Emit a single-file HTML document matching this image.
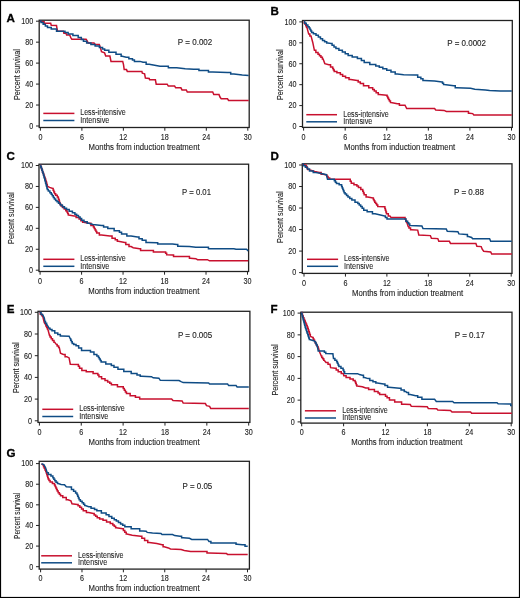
<!DOCTYPE html>
<html><head><meta charset="utf-8"><title>Survival curves</title>
<style>
html,body{margin:0;padding:0;background:#fff;}
body{width:520px;height:598px;overflow:hidden;}
svg{display:block;will-change:transform;}
text{font-family:"Liberation Sans", sans-serif;fill:#1e1e1e;stroke:#1e1e1e;stroke-width:0.12px;}
.tk{font-size:8.4px;}
.ttl{font-size:8.9px;}
.lg{font-size:8.5px;stroke-width:0.08px;fill:#1e1e1e;}
.pv{font-size:8.4px;}
.let{font-size:11.6px;font-weight:bold;fill:#000;stroke:#000;stroke-width:0.3px;}
</style></head><body>
<svg width="520" height="598" viewBox="0 0 520 598">
<rect x="0.5" y="0.5" width="519" height="597" fill="#fff" stroke="#000" stroke-width="1.2"/>
<rect x="39.2" y="20.2" width="210" height="107.3" fill="none" stroke="#222" stroke-width="1.3"/>
<line x1="36" y1="126" x2="39.2" y2="126" stroke="#222" stroke-width="1"/>
<text x="33.2" y="128.8" text-anchor="end" class="tk" textLength="4" lengthAdjust="spacingAndGlyphs">0</text>
<line x1="36" y1="105.04" x2="39.2" y2="105.04" stroke="#222" stroke-width="1"/>
<text x="33.2" y="107.84" text-anchor="end" class="tk" textLength="8" lengthAdjust="spacingAndGlyphs">20</text>
<line x1="36" y1="84.08" x2="39.2" y2="84.08" stroke="#222" stroke-width="1"/>
<text x="33.2" y="86.88" text-anchor="end" class="tk" textLength="8" lengthAdjust="spacingAndGlyphs">40</text>
<line x1="36" y1="63.12" x2="39.2" y2="63.12" stroke="#222" stroke-width="1"/>
<text x="33.2" y="65.92" text-anchor="end" class="tk" textLength="8" lengthAdjust="spacingAndGlyphs">60</text>
<line x1="36" y1="42.16" x2="39.2" y2="42.16" stroke="#222" stroke-width="1"/>
<text x="33.2" y="44.96" text-anchor="end" class="tk" textLength="8" lengthAdjust="spacingAndGlyphs">80</text>
<line x1="36" y1="21.2" x2="39.2" y2="21.2" stroke="#222" stroke-width="1"/>
<text x="33.2" y="24" text-anchor="end" class="tk" textLength="12" lengthAdjust="spacingAndGlyphs">100</text>
<line x1="40.4" y1="127.5" x2="40.4" y2="130.7" stroke="#222" stroke-width="1"/>
<text x="40.4" y="139.8" text-anchor="middle" class="tk" textLength="4" lengthAdjust="spacingAndGlyphs">0</text>
<line x1="81.88" y1="127.5" x2="81.88" y2="130.7" stroke="#222" stroke-width="1"/>
<text x="81.88" y="139.8" text-anchor="middle" class="tk" textLength="4" lengthAdjust="spacingAndGlyphs">6</text>
<line x1="123.36" y1="127.5" x2="123.36" y2="130.7" stroke="#222" stroke-width="1"/>
<text x="123.36" y="139.8" text-anchor="middle" class="tk" textLength="8" lengthAdjust="spacingAndGlyphs">12</text>
<line x1="164.84" y1="127.5" x2="164.84" y2="130.7" stroke="#222" stroke-width="1"/>
<text x="164.84" y="139.8" text-anchor="middle" class="tk" textLength="8" lengthAdjust="spacingAndGlyphs">18</text>
<line x1="206.32" y1="127.5" x2="206.32" y2="130.7" stroke="#222" stroke-width="1"/>
<text x="206.32" y="139.8" text-anchor="middle" class="tk" textLength="8" lengthAdjust="spacingAndGlyphs">24</text>
<line x1="247.8" y1="127.5" x2="247.8" y2="130.7" stroke="#222" stroke-width="1"/>
<text x="247.8" y="139.8" text-anchor="middle" class="tk" textLength="8" lengthAdjust="spacingAndGlyphs">30</text>
<text x="144.1" y="149.8" text-anchor="middle" class="ttl" textLength="111" lengthAdjust="spacingAndGlyphs">Months from induction treatment</text>
<text x="0" y="0" text-anchor="middle" class="ttl" textLength="50.8" lengthAdjust="spacingAndGlyphs" transform="translate(20.1,74.6) rotate(-90)">Percent survival</text>
<text x="6.5" y="22.4" class="let">A</text>
<text x="177.8" y="45.2" class="pv" textLength="34.5" lengthAdjust="spacingAndGlyphs">P = 0.002</text>
<line x1="43.3" y1="113.4" x2="74.4" y2="113.4" stroke="#c8102e" stroke-width="1.5"/>
<line x1="43.3" y1="120.5" x2="74.4" y2="120.5" stroke="#0f4c85" stroke-width="1.5"/>
<text x="80.2" y="115.3" class="lg" textLength="45.5" lengthAdjust="spacingAndGlyphs">Less-intensive</text>
<text x="80.2" y="122.9" class="lg" textLength="29.2" lengthAdjust="spacingAndGlyphs">Intensive</text>
<polyline points="39.9,21 42.8,21.7 44.1,21.7 44.1,23.3 45.4,23.3 50.7,23.3 51.2,25.2 56.5,25.4 57,28.6 57.6,31.2 63.4,31.2 63.9,33.3 66,33.3 66.6,34.9 69.7,34.9 70.8,37.6 71.8,39.2 86.1,39.2 86.7,40.2 88.2,42.9 94,42.9 95.1,44.4 99.3,44.6 100.4,47.6 101.5,51.8 104.6,52.9 105.7,56.1 109.9,56.1 111,61.4 122.7,61.4 123.5,64.6 124.2,69.6 126.5,69.6 127.3,71.4 141.9,71.4 142.3,73.1 144.6,73.8 145.4,78.1 149.2,78.5 149.6,79.8 155.4,79.8 156.2,84.2 167.2,84.2 168.3,86.1 174.6,86.1 175.7,87.8 180.9,87.8 182,89.9 186.3,89.9 187.3,92 212.7,92 213.8,94.6 219,94.6 220.1,97.3 221.2,98.8 227.5,98.8 228.6,100.5 248.7,100.5" fill="none" stroke="#c8102e" stroke-width="1.5" stroke-linejoin="miter"/>
<polyline points="39.9,21 40.99,21 40.99,22.62 43.16,22.62 43.16,24.25 45.34,24.25 45.34,25.88 47.51,25.88 47.51,27.5 48.6,27.5 51.25,27.5 51.25,29.1 53.9,29.1 56.55,29.1 56.55,31.2 59.2,31.2 63.4,31.2 64.97,31.2 64.97,32.55 68.12,32.55 68.12,33.9 69.7,33.9 72.9,33.9 72.9,35.5 76.1,35.5 78.2,35.5 78.2,37.6 80.3,37.6 81.35,37.6 81.35,39.45 83.45,39.45 83.45,41.3 84.5,41.3 86.65,41.3 86.65,42.9 88.8,42.9 90.9,42.9 90.9,44.4 93,44.4 95.12,44.4 95.12,46 99.38,46 99.38,47.6 101.5,47.6 102.55,47.6 102.55,48.9 104.65,48.9 104.65,50.2 105.7,50.2 108.85,50.2 108.85,52.3 112,52.3 116,52.3 116,54.2 120,54.2 121.15,54.2 121.15,56.2 122.3,56.2 126.2,57.3 128.85,57.3 128.85,58.8 131.5,58.8 132.47,58.8 132.47,60.1 134.43,60.1 134.43,61.4 135.4,61.4 140,61.4 143.1,62.3 146.15,62.3 146.15,64.2 149.2,64.2 154.6,65.2 160,66.2 168.35,66.2 168.35,67.7 176.7,67.7 185.2,68.8 193.7,69.2 198.95,69.2 198.95,70.5 204.2,70.5 208.45,70.5 208.45,72 212.7,72 227.5,72.6 230.7,72.6 230.7,74.1 233.9,74.1 242.3,75.1 248.7,75.5" fill="none" stroke="#0f4c85" stroke-width="1.5" stroke-linejoin="miter"/>
<rect x="302.5" y="20.5" width="209.8" height="106.9" fill="none" stroke="#222" stroke-width="1.3"/>
<line x1="299.3" y1="126.5" x2="302.5" y2="126.5" stroke="#222" stroke-width="1"/>
<text x="296.5" y="129.3" text-anchor="end" class="tk" textLength="4" lengthAdjust="spacingAndGlyphs">0</text>
<line x1="299.3" y1="105.58" x2="302.5" y2="105.58" stroke="#222" stroke-width="1"/>
<text x="296.5" y="108.38" text-anchor="end" class="tk" textLength="8" lengthAdjust="spacingAndGlyphs">20</text>
<line x1="299.3" y1="84.66" x2="302.5" y2="84.66" stroke="#222" stroke-width="1"/>
<text x="296.5" y="87.46" text-anchor="end" class="tk" textLength="8" lengthAdjust="spacingAndGlyphs">40</text>
<line x1="299.3" y1="63.74" x2="302.5" y2="63.74" stroke="#222" stroke-width="1"/>
<text x="296.5" y="66.54" text-anchor="end" class="tk" textLength="8" lengthAdjust="spacingAndGlyphs">60</text>
<line x1="299.3" y1="42.82" x2="302.5" y2="42.82" stroke="#222" stroke-width="1"/>
<text x="296.5" y="45.62" text-anchor="end" class="tk" textLength="8" lengthAdjust="spacingAndGlyphs">80</text>
<line x1="299.3" y1="21.9" x2="302.5" y2="21.9" stroke="#222" stroke-width="1"/>
<text x="296.5" y="24.7" text-anchor="end" class="tk" textLength="12" lengthAdjust="spacingAndGlyphs">100</text>
<line x1="303.6" y1="127.4" x2="303.6" y2="130.6" stroke="#222" stroke-width="1"/>
<text x="303.6" y="139.7" text-anchor="middle" class="tk" textLength="4" lengthAdjust="spacingAndGlyphs">0</text>
<line x1="345.18" y1="127.4" x2="345.18" y2="130.6" stroke="#222" stroke-width="1"/>
<text x="345.18" y="139.7" text-anchor="middle" class="tk" textLength="4" lengthAdjust="spacingAndGlyphs">6</text>
<line x1="386.76" y1="127.4" x2="386.76" y2="130.6" stroke="#222" stroke-width="1"/>
<text x="386.76" y="139.7" text-anchor="middle" class="tk" textLength="8" lengthAdjust="spacingAndGlyphs">12</text>
<line x1="428.34" y1="127.4" x2="428.34" y2="130.6" stroke="#222" stroke-width="1"/>
<text x="428.34" y="139.7" text-anchor="middle" class="tk" textLength="8" lengthAdjust="spacingAndGlyphs">18</text>
<line x1="469.92" y1="127.4" x2="469.92" y2="130.6" stroke="#222" stroke-width="1"/>
<text x="469.92" y="139.7" text-anchor="middle" class="tk" textLength="8" lengthAdjust="spacingAndGlyphs">24</text>
<line x1="511.5" y1="127.4" x2="511.5" y2="130.6" stroke="#222" stroke-width="1"/>
<text x="511.5" y="139.7" text-anchor="middle" class="tk" textLength="8" lengthAdjust="spacingAndGlyphs">30</text>
<text x="399.6" y="149.7" text-anchor="middle" class="ttl" textLength="111" lengthAdjust="spacingAndGlyphs">Months from induction treatment</text>
<text x="0" y="0" text-anchor="middle" class="ttl" textLength="50.4" lengthAdjust="spacingAndGlyphs" transform="translate(283,74.7) rotate(-90)">Percent survival</text>
<text x="270.4" y="15" class="let">B</text>
<text x="447.3" y="46.3" class="pv" textLength="38.7" lengthAdjust="spacingAndGlyphs">P = 0.0002</text>
<line x1="306.3" y1="114.7" x2="337" y2="114.7" stroke="#c8102e" stroke-width="1.5"/>
<line x1="306.3" y1="121.8" x2="337" y2="121.8" stroke="#0f4c85" stroke-width="1.5"/>
<text x="343.2" y="116.6" class="lg" textLength="45.5" lengthAdjust="spacingAndGlyphs">Less-intensive</text>
<text x="343.2" y="124.2" class="lg" textLength="29.2" lengthAdjust="spacingAndGlyphs">Intensive</text>
<polyline points="303.8,21.5 304.19,21.5 304.19,22.93 304.96,22.93 304.96,24.35 305.74,24.35 305.74,25.77 306.51,25.77 306.51,27.2 306.9,27.2 308.7,34.1 309.85,34.1 309.85,35.9 311,35.9 312.7,42.2 314.4,50.3 315.85,50.3 315.85,52.6 317.3,52.6 318.03,52.6 318.03,54.17 319.48,54.17 319.48,55.75 320.93,55.75 320.93,57.33 322.38,57.33 322.38,58.9 323.1,58.9 324.8,63.6 328.8,64.7 330.55,64.7 330.55,67 332.3,67 332.68,67 332.68,68.53 333.45,68.53 333.45,70.07 334.22,70.07 334.22,71.6 334.6,71.6 336.9,71.6 336.9,72.8 339.2,72.8 340.35,72.8 340.35,74.5 342.65,74.5 342.65,76.2 343.8,76.2 345.55,76.2 345.55,77.8 349.05,77.8 349.05,79.4 350.8,79.4 357.1,80.4 358.18,80.4 358.18,82 360.32,82 360.32,83.6 361.4,83.6 363.5,83.6 363.5,85.7 365.6,85.7 368.75,85.7 368.75,87.8 371.9,87.8 372.7,87.8 372.7,89.4 374.3,89.4 374.3,91 375.1,91 376.15,91 376.15,92.8 378.25,92.8 378.25,94.6 379.3,94.6 386.7,95.2 387.07,95.2 387.07,96.6 387.8,96.6 387.8,98 388.53,98 388.53,99.4 388.9,99.4 389.42,99.4 389.42,101 390.48,101 390.48,102.6 391,102.6 397.3,103.7 399.4,103.7 399.4,105.2 401.5,105.2 405,105.2 406.7,108.5 434.6,108.5 435.7,110 444.1,110.4 446.3,111.5 467.4,111.5 468.45,111.5 468.45,113.2 469.5,113.2 472.7,113.6 473.8,114.9 511.8,114.9" fill="none" stroke="#c8102e" stroke-width="1.5" stroke-linejoin="miter"/>
<polyline points="303.8,21.5 304.62,21.5 304.62,23.23 306.25,23.23 306.25,24.97 307.88,24.97 307.88,26.7 308.7,26.7 309.12,26.7 309.12,28.12 309.98,28.12 309.98,29.55 310.82,29.55 310.82,30.97 311.68,30.97 311.68,32.4 312.1,32.4 313.4,32.4 313.4,33.85 316,33.85 316,35.3 317.3,35.3 318.35,35.3 318.35,37.03 320.45,37.03 320.45,38.77 322.55,38.77 322.55,40.5 323.6,40.5 324.62,40.5 324.62,41.8 326.68,41.8 326.68,43.1 327.7,43.1 331.1,43.6 332.07,43.6 332.07,45.27 334,45.27 334,46.93 335.93,46.93 335.93,48.6 336.9,48.6 338.9,48.6 338.9,50.3 340.9,50.3 342.35,50.3 342.35,52.03 345.25,52.03 345.25,53.77 348.15,53.77 348.15,55.5 349.6,55.5 352.2,55.5 352.2,56.95 357.4,56.95 357.4,58.4 360,58.4 361.4,58.4 361.4,60.4 364.2,60.4 364.2,62.4 365.6,62.4 369.8,62.4 369.8,64.5 374,64.5 375.77,64.5 375.77,65.93 379.3,65.93 379.3,67.37 382.83,67.37 382.83,68.8 384.6,68.8 386.73,68.8 386.73,70.35 390.98,70.35 390.98,71.9 393.1,71.9 395.2,71.9 395.2,74.1 397.3,74.1 403.7,74.7 415.6,75.1 417.7,75.1 417.7,77.2 419.8,77.2 420.85,77.2 420.85,78.8 422.95,78.8 422.95,80.4 424,80.4 434.6,81 442,81.9 442.52,81.9 442.52,83.25 443.58,83.25 443.58,84.6 444.1,84.6 453.7,85.7 455.25,85.7 455.25,87.8 456.8,87.8 470.6,88.2 474.8,89.3 485.4,89.9 489.6,90.4 500.2,91 511.8,91" fill="none" stroke="#0f4c85" stroke-width="1.5" stroke-linejoin="miter"/>
<rect x="39" y="164.2" width="209.6" height="107.3" fill="none" stroke="#222" stroke-width="1.3"/>
<line x1="35.8" y1="270.2" x2="39" y2="270.2" stroke="#222" stroke-width="1"/>
<text x="33" y="273" text-anchor="end" class="tk" textLength="4" lengthAdjust="spacingAndGlyphs">0</text>
<line x1="35.8" y1="249.26" x2="39" y2="249.26" stroke="#222" stroke-width="1"/>
<text x="33" y="252.06" text-anchor="end" class="tk" textLength="8" lengthAdjust="spacingAndGlyphs">20</text>
<line x1="35.8" y1="228.32" x2="39" y2="228.32" stroke="#222" stroke-width="1"/>
<text x="33" y="231.12" text-anchor="end" class="tk" textLength="8" lengthAdjust="spacingAndGlyphs">40</text>
<line x1="35.8" y1="207.38" x2="39" y2="207.38" stroke="#222" stroke-width="1"/>
<text x="33" y="210.18" text-anchor="end" class="tk" textLength="8" lengthAdjust="spacingAndGlyphs">60</text>
<line x1="35.8" y1="186.44" x2="39" y2="186.44" stroke="#222" stroke-width="1"/>
<text x="33" y="189.24" text-anchor="end" class="tk" textLength="8" lengthAdjust="spacingAndGlyphs">80</text>
<line x1="35.8" y1="165.5" x2="39" y2="165.5" stroke="#222" stroke-width="1"/>
<text x="33" y="168.3" text-anchor="end" class="tk" textLength="12" lengthAdjust="spacingAndGlyphs">100</text>
<line x1="40.1" y1="271.5" x2="40.1" y2="274.7" stroke="#222" stroke-width="1"/>
<text x="40.1" y="283.8" text-anchor="middle" class="tk" textLength="4" lengthAdjust="spacingAndGlyphs">0</text>
<line x1="81.58" y1="271.5" x2="81.58" y2="274.7" stroke="#222" stroke-width="1"/>
<text x="81.58" y="283.8" text-anchor="middle" class="tk" textLength="4" lengthAdjust="spacingAndGlyphs">6</text>
<line x1="123.06" y1="271.5" x2="123.06" y2="274.7" stroke="#222" stroke-width="1"/>
<text x="123.06" y="283.8" text-anchor="middle" class="tk" textLength="8" lengthAdjust="spacingAndGlyphs">12</text>
<line x1="164.54" y1="271.5" x2="164.54" y2="274.7" stroke="#222" stroke-width="1"/>
<text x="164.54" y="283.8" text-anchor="middle" class="tk" textLength="8" lengthAdjust="spacingAndGlyphs">18</text>
<line x1="206.02" y1="271.5" x2="206.02" y2="274.7" stroke="#222" stroke-width="1"/>
<text x="206.02" y="283.8" text-anchor="middle" class="tk" textLength="8" lengthAdjust="spacingAndGlyphs">24</text>
<line x1="247.5" y1="271.5" x2="247.5" y2="274.7" stroke="#222" stroke-width="1"/>
<text x="247.5" y="283.8" text-anchor="middle" class="tk" textLength="8" lengthAdjust="spacingAndGlyphs">30</text>
<text x="143.8" y="293.8" text-anchor="middle" class="ttl" textLength="111" lengthAdjust="spacingAndGlyphs">Months from induction treatment</text>
<text x="0" y="0" text-anchor="middle" class="ttl" textLength="51.4" lengthAdjust="spacingAndGlyphs" transform="translate(14.4,218.2) rotate(-90)">Percent survival</text>
<text x="6.5" y="160" class="let">C</text>
<text x="182" y="194.8" class="pv" textLength="29" lengthAdjust="spacingAndGlyphs">P = 0.01</text>
<line x1="43.3" y1="259.3" x2="74.4" y2="259.3" stroke="#c8102e" stroke-width="1.5"/>
<line x1="43.3" y1="266.3" x2="74.4" y2="266.3" stroke="#0f4c85" stroke-width="1.5"/>
<text x="80.2" y="261.2" class="lg" textLength="45.5" lengthAdjust="spacingAndGlyphs">Less-intensive</text>
<text x="80.2" y="268.7" class="lg" textLength="29.2" lengthAdjust="spacingAndGlyphs">Intensive</text>
<polyline points="40.5,165.2 40.78,165.2 40.78,166.88 41.34,166.88 41.34,168.56 41.9,168.56 41.9,170.24 42.46,170.24 42.46,171.92 43.02,171.92 43.02,173.6 43.3,173.6 43.65,173.6 43.65,175.37 44.35,175.37 44.35,177.13 45.05,177.13 45.05,178.9 45.4,178.9 45.61,178.9 45.61,180.38 46.03,180.38 46.03,181.86 46.45,181.86 46.45,183.34 46.87,183.34 46.87,184.82 47.29,184.82 47.29,186.3 47.5,186.3 49.6,187.4 52.8,188.4 53.15,188.4 53.15,190.17 53.85,190.17 53.85,191.93 54.55,191.93 54.55,193.7 54.9,193.7 55.7,193.7 55.7,195.3 57.3,195.3 57.3,196.9 58.1,196.9 58.31,196.9 58.31,198.38 58.73,198.38 58.73,199.86 59.15,199.86 59.15,201.34 59.57,201.34 59.57,202.82 59.99,202.82 59.99,204.3 60.2,204.3 61,204.3 61,205.9 62.6,205.9 62.6,207.5 63.4,207.5 64.2,207.5 64.2,209.1 65.8,209.1 65.8,210.7 66.6,210.7 66.95,210.7 66.95,212.1 67.65,212.1 67.65,213.5 68.35,213.5 68.35,214.9 68.7,214.9 74,215.9 76.1,215.9 76.1,217.4 78.2,217.4 79.08,217.4 79.08,219.03 80.85,219.03 80.85,220.67 82.62,220.67 82.62,222.3 83.5,222.3 88.8,223.3 90.9,223.3 90.9,225.5 93,225.5 93.42,225.5 93.42,226.98 94.26,226.98 94.26,228.46 95.1,228.46 95.1,229.94 95.94,229.94 95.94,231.42 96.78,231.42 96.78,232.9 97.2,232.9 99.35,232.9 99.35,235 101.5,235 109.9,236 112.05,236 112.05,238.2 114.2,238.2 115.25,238.2 115.25,239.75 117.35,239.75 117.35,241.3 118.4,241.3 124.7,242.4 125.8,242.4 125.8,244.5 126.9,244.5 129,244.5 129,246.6 131.1,246.6 133.2,247.7 139.5,248.7 140.6,248.7 140.6,250.4 141.7,250.4 153.4,250.4 153.4,251.9 165.1,251.9 165.62,251.9 165.62,253.3 166.67,253.3 166.67,254.7 167.2,254.7 172.5,255.1 173.55,255.1 173.55,256.6 174.6,256.6 188.4,256.6 189.45,256.6 189.45,258.3 190.5,258.3 195.8,258.7 197.5,259.7 207.4,259.7 209.5,260.8 248.2,260.8" fill="none" stroke="#c8102e" stroke-width="1.5" stroke-linejoin="miter"/>
<polyline points="40.5,165.2 40.78,165.2 40.78,166.88 41.34,166.88 41.34,168.56 41.9,168.56 41.9,170.24 42.46,170.24 42.46,171.92 43.02,171.92 43.02,173.6 43.3,173.6 43.51,173.6 43.51,175.19 43.93,175.19 43.93,176.78 44.35,176.78 44.35,178.37 44.77,178.37 44.77,179.96 45.19,179.96 45.19,181.55 45.61,181.55 45.61,183.14 46.03,183.14 46.03,184.73 46.45,184.73 46.45,186.32 46.87,186.32 46.87,187.91 47.29,187.91 47.29,189.5 47.5,189.5 48.3,189.5 48.3,191.1 49.9,191.1 49.9,192.7 50.7,192.7 51.23,192.7 51.23,194.27 52.27,194.27 52.27,195.85 53.33,195.85 53.33,197.43 54.38,197.43 54.38,199 54.9,199 55.62,199 55.62,200.43 57.05,200.43 57.05,201.87 58.48,201.87 58.48,203.3 59.2,203.3 60.25,203.3 60.25,205.05 62.35,205.05 62.35,206.8 63.4,206.8 64.45,206.8 64.45,208.2 66.55,208.2 66.55,209.6 67.6,209.6 69.2,209.6 69.2,211.2 72.4,211.2 72.4,212.8 74,212.8 74.88,212.8 74.88,214.2 76.65,214.2 76.65,215.6 78.42,215.6 78.42,217 79.3,217 80.08,217 80.08,218.6 81.62,218.6 81.62,220.2 82.4,220.2 84,220.2 84,221.75 87.2,221.75 87.2,223.3 88.8,223.3 93,224.4 101.5,225.5 103.6,225.5 103.6,227.05 107.8,227.05 107.8,228.6 109.9,228.6 114.15,228.6 114.15,230.8 118.4,230.8 119.45,230.8 119.45,232.35 121.55,232.35 121.55,233.9 122.6,233.9 126.85,233.9 126.85,236 131.1,236 137.4,237.1 139,237.1 139,238.7 142.2,238.7 142.2,240.3 143.8,240.3 146,240.3 146,242.4 148.2,242.4 156.6,242.8 157.7,242.8 157.7,244.1 158.8,244.1 172.5,243.9 176.7,244.5 177.75,244.5 177.75,246.2 178.8,246.2 189.4,246.6 195.8,247.3 207.4,247.3 208.45,247.3 208.45,248.7 209.5,248.7 233.9,248.7 236,249.2 246.5,249.2 248.2,250.9" fill="none" stroke="#0f4c85" stroke-width="1.5" stroke-linejoin="miter"/>
<rect x="302.3" y="163.8" width="209.7" height="109.6" fill="none" stroke="#222" stroke-width="1.3"/>
<line x1="299.1" y1="272.6" x2="302.3" y2="272.6" stroke="#222" stroke-width="1"/>
<text x="296.3" y="275.4" text-anchor="end" class="tk" textLength="4" lengthAdjust="spacingAndGlyphs">0</text>
<line x1="299.1" y1="251.08" x2="302.3" y2="251.08" stroke="#222" stroke-width="1"/>
<text x="296.3" y="253.88" text-anchor="end" class="tk" textLength="8" lengthAdjust="spacingAndGlyphs">20</text>
<line x1="299.1" y1="229.56" x2="302.3" y2="229.56" stroke="#222" stroke-width="1"/>
<text x="296.3" y="232.36" text-anchor="end" class="tk" textLength="8" lengthAdjust="spacingAndGlyphs">40</text>
<line x1="299.1" y1="208.04" x2="302.3" y2="208.04" stroke="#222" stroke-width="1"/>
<text x="296.3" y="210.84" text-anchor="end" class="tk" textLength="8" lengthAdjust="spacingAndGlyphs">60</text>
<line x1="299.1" y1="186.52" x2="302.3" y2="186.52" stroke="#222" stroke-width="1"/>
<text x="296.3" y="189.32" text-anchor="end" class="tk" textLength="8" lengthAdjust="spacingAndGlyphs">80</text>
<line x1="299.1" y1="165" x2="302.3" y2="165" stroke="#222" stroke-width="1"/>
<text x="296.3" y="167.8" text-anchor="end" class="tk" textLength="12" lengthAdjust="spacingAndGlyphs">100</text>
<line x1="304" y1="273.4" x2="304" y2="276.6" stroke="#222" stroke-width="1"/>
<text x="304" y="285.7" text-anchor="middle" class="tk" textLength="4" lengthAdjust="spacingAndGlyphs">0</text>
<line x1="345.44" y1="273.4" x2="345.44" y2="276.6" stroke="#222" stroke-width="1"/>
<text x="345.44" y="285.7" text-anchor="middle" class="tk" textLength="4" lengthAdjust="spacingAndGlyphs">6</text>
<line x1="386.88" y1="273.4" x2="386.88" y2="276.6" stroke="#222" stroke-width="1"/>
<text x="386.88" y="285.7" text-anchor="middle" class="tk" textLength="8" lengthAdjust="spacingAndGlyphs">12</text>
<line x1="428.32" y1="273.4" x2="428.32" y2="276.6" stroke="#222" stroke-width="1"/>
<text x="428.32" y="285.7" text-anchor="middle" class="tk" textLength="8" lengthAdjust="spacingAndGlyphs">18</text>
<line x1="469.76" y1="273.4" x2="469.76" y2="276.6" stroke="#222" stroke-width="1"/>
<text x="469.76" y="285.7" text-anchor="middle" class="tk" textLength="8" lengthAdjust="spacingAndGlyphs">24</text>
<line x1="511.2" y1="273.4" x2="511.2" y2="276.6" stroke="#222" stroke-width="1"/>
<text x="511.2" y="285.7" text-anchor="middle" class="tk" textLength="8" lengthAdjust="spacingAndGlyphs">30</text>
<text x="407.6" y="295.7" text-anchor="middle" class="ttl" textLength="111" lengthAdjust="spacingAndGlyphs">Months from induction treatment</text>
<text x="0" y="0" text-anchor="middle" class="ttl" textLength="51.4" lengthAdjust="spacingAndGlyphs" transform="translate(283,217.2) rotate(-90)">Percent survival</text>
<text x="270.4" y="160" class="let">D</text>
<text x="454" y="194.8" class="pv" textLength="30" lengthAdjust="spacingAndGlyphs">P = 0.88</text>
<line x1="307" y1="259.3" x2="338.1" y2="259.3" stroke="#c8102e" stroke-width="1.5"/>
<line x1="307" y1="266.3" x2="338.1" y2="266.3" stroke="#0f4c85" stroke-width="1.5"/>
<text x="344" y="261.2" class="lg" textLength="45.5" lengthAdjust="spacingAndGlyphs">Less-intensive</text>
<text x="344" y="268.7" class="lg" textLength="29.2" lengthAdjust="spacingAndGlyphs">Intensive</text>
<polyline points="302.5,164.1 305.9,165.2 306.25,165.2 306.25,166.6 306.95,166.6 306.95,168 307.65,168 307.65,169.4 308,169.4 311.6,170.5 314.8,171.5 319,172.6 321.15,172.6 321.15,174.3 323.3,174.3 326.4,175.1 326.95,175.1 326.95,176.5 328.05,176.5 328.05,177.9 328.6,177.9 329.65,177.9 329.65,179.3 330.7,179.3 349.7,179.3 350.23,179.3 350.23,181.25 351.27,181.25 351.27,183.2 351.8,183.2 353.95,183.2 353.95,184.8 356.1,184.8 356.88,184.8 356.88,186.1 358.43,186.1 358.43,187.4 359.2,187.4 360.8,187.4 360.8,189.5 362.4,189.5 362.75,189.5 362.75,191.27 363.45,191.27 363.45,193.03 364.15,193.03 364.15,194.8 364.5,194.8 366.1,194.8 366.1,196.9 367.7,196.9 373,198 373.35,198 373.35,199.4 374.05,199.4 374.05,200.8 374.75,200.8 374.75,202.2 375.1,202.2 375.63,202.2 375.63,203.6 376.7,203.6 376.7,205 377.77,205 377.77,206.4 378.3,206.4 384.6,206.8 384.86,206.8 384.86,208.55 385.39,208.55 385.39,210.3 385.91,210.3 385.91,212.05 386.44,212.05 386.44,213.8 386.7,213.8 388.3,213.8 388.3,215.9 389.9,215.9 391,217.4 404.7,217.4 405.05,217.4 405.05,219.03 405.75,219.03 405.75,220.67 406.45,220.67 406.45,222.3 406.8,222.3 408.2,226.5 408.98,226.5 408.98,228.1 410.52,228.1 410.52,229.7 411.3,229.7 417.7,230.1 418.8,235 430.4,235.6 431.4,238.2 437.8,238.6 438.8,241.3 449.4,241.3 450.5,243.4 475.9,243.4 476.9,246.2 481.2,246.6 482.2,249.2 483.7,251.3 490.7,251.9 491.7,254 511.8,254" fill="none" stroke="#c8102e" stroke-width="1.5" stroke-linejoin="miter"/>
<polyline points="302.5,164.1 303.45,164.1 303.45,165.7 305.35,165.7 305.35,167.3 306.3,167.3 307.38,167.3 307.38,169.1 309.53,169.1 309.53,170.9 310.6,170.9 313.25,170.9 313.25,172.6 315.9,172.6 321.2,173.6 326.4,174.7 327.5,179.3 333.8,179.3 334.33,179.3 334.33,180.73 335.4,180.73 335.4,182.17 336.47,182.17 336.47,183.6 337,183.6 339.15,183.6 339.15,184.8 341.3,184.8 341.61,184.8 341.61,186.38 342.23,186.38 342.23,187.96 342.85,187.96 342.85,189.54 343.47,189.54 343.47,191.12 344.09,191.12 344.09,192.7 344.4,192.7 345.12,192.7 345.12,194.1 346.55,194.1 346.55,195.5 347.98,195.5 347.98,196.9 348.7,196.9 349.75,196.9 349.75,198.5 351.85,198.5 351.85,200.1 352.9,200.1 355,200.1 355,202.2 357.1,202.2 357.82,202.2 357.82,203.6 359.25,203.6 359.25,205 360.68,205 360.68,206.4 361.4,206.4 362.17,206.4 362.17,208.3 363.73,208.3 363.73,210.2 364.5,210.2 367.15,210.2 367.15,211.7 369.8,211.7 372.45,211.7 372.45,213.8 375.1,213.8 380.4,214.9 384.6,215.9 385.4,215.9 385.4,217.5 387,217.5 387,219.1 387.8,219.1 404.7,219.1 405.9,219.1 405.9,221.2 407.1,221.2 407.63,221.2 407.63,222.63 408.7,222.63 408.7,224.07 409.77,224.07 409.77,225.5 410.3,225.5 421.9,225.9 423,228.6 446.3,229.1 447.3,231.2 457.9,231.8 458.9,233.9 466.3,234.4 467.4,234.4 467.4,236.5 468.5,236.5 471.6,237.5 472.7,238.8 489.6,238.8 490.7,241.3 511.8,241.3" fill="none" stroke="#0f4c85" stroke-width="1.5" stroke-linejoin="miter"/>
<rect x="38" y="311.3" width="211.9" height="111.1" fill="none" stroke="#222" stroke-width="1.3"/>
<line x1="34.8" y1="420.8" x2="38" y2="420.8" stroke="#222" stroke-width="1"/>
<text x="32" y="423.6" text-anchor="end" class="tk" textLength="4" lengthAdjust="spacingAndGlyphs">0</text>
<line x1="34.8" y1="399.1" x2="38" y2="399.1" stroke="#222" stroke-width="1"/>
<text x="32" y="401.9" text-anchor="end" class="tk" textLength="8" lengthAdjust="spacingAndGlyphs">20</text>
<line x1="34.8" y1="377.4" x2="38" y2="377.4" stroke="#222" stroke-width="1"/>
<text x="32" y="380.2" text-anchor="end" class="tk" textLength="8" lengthAdjust="spacingAndGlyphs">40</text>
<line x1="34.8" y1="355.7" x2="38" y2="355.7" stroke="#222" stroke-width="1"/>
<text x="32" y="358.5" text-anchor="end" class="tk" textLength="8" lengthAdjust="spacingAndGlyphs">60</text>
<line x1="34.8" y1="334" x2="38" y2="334" stroke="#222" stroke-width="1"/>
<text x="32" y="336.8" text-anchor="end" class="tk" textLength="8" lengthAdjust="spacingAndGlyphs">80</text>
<line x1="34.8" y1="312.3" x2="38" y2="312.3" stroke="#222" stroke-width="1"/>
<text x="32" y="315.1" text-anchor="end" class="tk" textLength="12" lengthAdjust="spacingAndGlyphs">100</text>
<line x1="39.4" y1="422.4" x2="39.4" y2="425.6" stroke="#222" stroke-width="1"/>
<text x="39.4" y="434.7" text-anchor="middle" class="tk" textLength="4" lengthAdjust="spacingAndGlyphs">0</text>
<line x1="81.26" y1="422.4" x2="81.26" y2="425.6" stroke="#222" stroke-width="1"/>
<text x="81.26" y="434.7" text-anchor="middle" class="tk" textLength="4" lengthAdjust="spacingAndGlyphs">6</text>
<line x1="123.12" y1="422.4" x2="123.12" y2="425.6" stroke="#222" stroke-width="1"/>
<text x="123.12" y="434.7" text-anchor="middle" class="tk" textLength="8" lengthAdjust="spacingAndGlyphs">12</text>
<line x1="164.98" y1="422.4" x2="164.98" y2="425.6" stroke="#222" stroke-width="1"/>
<text x="164.98" y="434.7" text-anchor="middle" class="tk" textLength="8" lengthAdjust="spacingAndGlyphs">18</text>
<line x1="206.84" y1="422.4" x2="206.84" y2="425.6" stroke="#222" stroke-width="1"/>
<text x="206.84" y="434.7" text-anchor="middle" class="tk" textLength="8" lengthAdjust="spacingAndGlyphs">24</text>
<line x1="248.7" y1="422.4" x2="248.7" y2="425.6" stroke="#222" stroke-width="1"/>
<text x="248.7" y="434.7" text-anchor="middle" class="tk" textLength="8" lengthAdjust="spacingAndGlyphs">30</text>
<text x="144.05" y="444.7" text-anchor="middle" class="ttl" textLength="111" lengthAdjust="spacingAndGlyphs">Months from induction treatment</text>
<text x="0" y="0" text-anchor="middle" class="ttl" textLength="50.4" lengthAdjust="spacingAndGlyphs" transform="translate(19,367.7) rotate(-90)">Percent survival</text>
<text x="6.8" y="313.4" class="let">E</text>
<text x="177.9" y="338.2" class="pv" textLength="34.3" lengthAdjust="spacingAndGlyphs">P = 0.005</text>
<line x1="42.3" y1="409.3" x2="73.2" y2="409.3" stroke="#c8102e" stroke-width="1.5"/>
<line x1="42.3" y1="416.5" x2="73.2" y2="416.5" stroke="#0f4c85" stroke-width="1.5"/>
<text x="79.2" y="411.2" class="lg" textLength="45.5" lengthAdjust="spacingAndGlyphs">Less-intensive</text>
<text x="79.2" y="418.9" class="lg" textLength="29.2" lengthAdjust="spacingAndGlyphs">Intensive</text>
<polyline points="39.5,312.6 40.27,312.6 40.27,314.2 41.83,314.2 41.83,315.8 42.6,315.8 44.3,322.7 45.5,324.4 45.88,324.4 45.88,325.93 46.65,325.93 46.65,327.47 47.42,327.47 47.42,329 47.8,329 49.5,335.4 50.08,335.4 50.08,337.1 51.22,337.1 51.22,338.8 51.8,338.8 52.52,338.8 52.52,340.55 53.98,340.55 53.98,342.3 54.7,342.3 56.5,344.6 57.2,344.6 57.2,346.05 58.6,346.05 58.6,347.5 59.3,347.5 60.5,353.3 63.4,354.4 65.1,354.4 65.1,356.7 66.8,356.7 69.1,357.9 70.3,364.2 77.8,364.4 78.38,364.4 78.38,366.3 79.52,366.3 79.52,368.2 80.1,368.2 81.85,368.2 81.85,370.4 83.6,370.4 86.25,370.4 86.25,371.8 88.9,371.8 93.1,371.8 93.1,373.5 97.3,373.5 97.85,373.5 97.85,375.1 98.95,375.1 98.95,376.7 99.5,376.7 101.6,376.7 101.6,378.8 103.7,378.8 105.03,378.8 105.03,380.4 107.67,380.4 107.67,382 109,382 109.8,382 109.8,383.35 111.4,383.35 111.4,384.7 112.2,384.7 117.45,384.7 117.45,386.8 122.7,386.8 123.24,386.8 123.24,388.5 124.31,388.5 124.31,390.2 125.39,390.2 125.39,391.9 126.46,391.9 126.46,393.6 127,393.6 130.15,393.6 130.15,395.7 133.3,395.7 135.43,395.7 135.43,397.3 139.68,397.3 139.68,398.9 141.8,398.9 171.6,398.9 173,400.6 182.1,401 183.2,403.1 205.4,403.6 206.5,405.7 209.6,406.3 210.7,408.4 248.8,408.4" fill="none" stroke="#c8102e" stroke-width="1.5" stroke-linejoin="miter"/>
<polyline points="39.5,312.6 41.05,312.6 41.05,314.6 42.6,314.6 44.3,318.1 44.9,321.5 45.48,321.5 45.48,323.25 46.62,323.25 46.62,325 47.2,325 49,328.2 50,328.2 50,329.5 52,329.5 52,330.8 53,330.8 54.75,330.8 54.75,333.1 56.5,333.1 57.77,333.1 57.77,334.55 60.33,334.55 60.33,336 61.6,336 69.1,336.3 70.3,338.8 70.68,338.8 70.68,340.33 71.45,340.33 71.45,341.87 72.22,341.87 72.22,343.4 72.6,343.4 73.75,343.4 73.75,344.6 76.05,344.6 76.05,345.8 77.2,345.8 78.65,345.8 78.65,348.1 80.1,348.1 81.55,348.1 81.55,350.4 83,350.4 88.7,350.4 90.45,350.4 90.45,352.1 92.2,352.1 93.95,352.1 93.95,354.4 95.7,354.4 96.85,354.4 96.85,356.1 98,356.1 98.45,356.1 98.45,357.55 99.35,357.55 99.35,359 100.25,359 100.25,360.45 101.15,360.45 101.15,361.9 101.6,361.9 105.8,361.9 105.8,364 110,364 111.33,364 111.33,365.6 113.97,365.6 113.97,367.2 115.3,367.2 117.95,367.2 117.95,369.3 120.6,369.3 123.8,369.3 123.8,371.4 127,371.4 131.2,371.4 131.2,373.5 135.4,373.5 137,373.5 137,374.9 140.2,374.9 140.2,376.3 141.8,376.3 151.5,376.7 153.2,377.8 158.9,378.2 160.3,380.3 179,380.5 181.1,381.6 183.2,382.6 208.6,383 209.6,384.1 227.6,384.1 228.7,385.6 236.1,385.6 237.1,386.9 248.8,386.9" fill="none" stroke="#0f4c85" stroke-width="1.5" stroke-linejoin="miter"/>
<rect x="300.8" y="312.2" width="211.2" height="110.9" fill="none" stroke="#222" stroke-width="1.3"/>
<line x1="297.6" y1="421.9" x2="300.8" y2="421.9" stroke="#222" stroke-width="1"/>
<text x="294.8" y="424.7" text-anchor="end" class="tk" textLength="4" lengthAdjust="spacingAndGlyphs">0</text>
<line x1="297.6" y1="400.14" x2="300.8" y2="400.14" stroke="#222" stroke-width="1"/>
<text x="294.8" y="402.94" text-anchor="end" class="tk" textLength="8" lengthAdjust="spacingAndGlyphs">20</text>
<line x1="297.6" y1="378.38" x2="300.8" y2="378.38" stroke="#222" stroke-width="1"/>
<text x="294.8" y="381.18" text-anchor="end" class="tk" textLength="8" lengthAdjust="spacingAndGlyphs">40</text>
<line x1="297.6" y1="356.62" x2="300.8" y2="356.62" stroke="#222" stroke-width="1"/>
<text x="294.8" y="359.42" text-anchor="end" class="tk" textLength="8" lengthAdjust="spacingAndGlyphs">60</text>
<line x1="297.6" y1="334.86" x2="300.8" y2="334.86" stroke="#222" stroke-width="1"/>
<text x="294.8" y="337.66" text-anchor="end" class="tk" textLength="8" lengthAdjust="spacingAndGlyphs">80</text>
<line x1="297.6" y1="313.1" x2="300.8" y2="313.1" stroke="#222" stroke-width="1"/>
<text x="294.8" y="315.9" text-anchor="end" class="tk" textLength="12" lengthAdjust="spacingAndGlyphs">100</text>
<line x1="301.7" y1="423.1" x2="301.7" y2="426.3" stroke="#222" stroke-width="1"/>
<text x="301.7" y="435.4" text-anchor="middle" class="tk" textLength="4" lengthAdjust="spacingAndGlyphs">0</text>
<line x1="343.6" y1="423.1" x2="343.6" y2="426.3" stroke="#222" stroke-width="1"/>
<text x="343.6" y="435.4" text-anchor="middle" class="tk" textLength="4" lengthAdjust="spacingAndGlyphs">6</text>
<line x1="385.5" y1="423.1" x2="385.5" y2="426.3" stroke="#222" stroke-width="1"/>
<text x="385.5" y="435.4" text-anchor="middle" class="tk" textLength="8" lengthAdjust="spacingAndGlyphs">12</text>
<line x1="427.4" y1="423.1" x2="427.4" y2="426.3" stroke="#222" stroke-width="1"/>
<text x="427.4" y="435.4" text-anchor="middle" class="tk" textLength="8" lengthAdjust="spacingAndGlyphs">18</text>
<line x1="469.3" y1="423.1" x2="469.3" y2="426.3" stroke="#222" stroke-width="1"/>
<text x="469.3" y="435.4" text-anchor="middle" class="tk" textLength="8" lengthAdjust="spacingAndGlyphs">24</text>
<line x1="511.2" y1="423.1" x2="511.2" y2="426.3" stroke="#222" stroke-width="1"/>
<text x="511.2" y="435.4" text-anchor="middle" class="tk" textLength="8" lengthAdjust="spacingAndGlyphs">30</text>
<text x="406.8" y="445.4" text-anchor="middle" class="ttl" textLength="111" lengthAdjust="spacingAndGlyphs">Months from induction treatment</text>
<text x="0" y="0" text-anchor="middle" class="ttl" textLength="51.2" lengthAdjust="spacingAndGlyphs" transform="translate(277.6,370) rotate(-90)">Percent survival</text>
<text x="270.4" y="313.4" class="let">F</text>
<text x="454.7" y="338.2" class="pv" textLength="30.1" lengthAdjust="spacingAndGlyphs">P = 0.17</text>
<line x1="304.9" y1="410.8" x2="336" y2="410.8" stroke="#c8102e" stroke-width="1.5"/>
<line x1="304.9" y1="418" x2="336" y2="418" stroke="#0f4c85" stroke-width="1.5"/>
<text x="342.2" y="412.7" class="lg" textLength="45.5" lengthAdjust="spacingAndGlyphs">Less-intensive</text>
<text x="342.2" y="420.4" class="lg" textLength="29.2" lengthAdjust="spacingAndGlyphs">Intensive</text>
<polyline points="301.5,312.5 301.85,312.5 301.85,314.25 302.55,314.25 302.55,316 303.25,316 303.25,317.75 303.95,317.75 303.95,319.5 304.3,319.5 304.62,319.5 304.62,320.98 305.26,320.98 305.26,322.46 305.9,322.46 305.9,323.94 306.54,323.94 306.54,325.42 307.18,325.42 307.18,326.9 307.5,326.9 307.76,326.9 307.76,328.48 308.27,328.48 308.27,330.07 308.79,330.07 308.79,331.65 309.31,331.65 309.31,333.23 309.83,333.23 309.83,334.82 310.34,334.82 310.34,336.4 310.6,336.4 312.8,337.5 313.17,337.5 313.17,338.9 313.9,338.9 313.9,340.3 314.63,340.3 314.63,341.7 315,341.7 315.44,341.7 315.44,343.3 316.31,343.3 316.31,344.9 317.19,344.9 317.19,346.5 318.06,346.5 318.06,348.1 318.5,348.1 319.6,352.1 321.3,356.1 321.78,356.1 321.78,357.47 322.75,357.47 322.75,358.83 323.72,358.83 323.72,360.2 324.2,360.2 326,362.5 328,362.5 328,364.2 330,364.2 330.6,367.7 335.2,368.3 336.2,368.3 336.2,370 338.2,370 338.2,371.7 339.2,371.7 341.25,371.7 341.25,373.4 343.3,373.4 343.8,375.8 346.1,375.8 346.1,377.5 348.4,377.5 350,377.5 350,378.95 353.2,378.95 353.2,380.4 354.8,380.4 355.09,380.4 355.09,381.82 355.66,381.82 355.66,383.25 356.24,383.25 356.24,384.68 356.81,384.68 356.81,386.1 357.1,386.1 362.3,386.7 365.7,387.9 368.6,387.9 368.6,389.6 371.5,389.6 374.4,389.6 374.4,391.4 377.3,391.4 378.07,391.4 378.07,393 379.62,393 379.62,394.6 380.4,394.6 384.7,394.6 385.5,394.6 385.5,396.2 387.1,396.2 387.1,397.8 387.9,397.8 389.45,397.8 389.45,399.9 391,399.9 394.7,399.9 394.7,402 398.4,402 401.6,402 401.6,404.3 404.8,404.3 410.3,404.6 411.3,406.3 427.2,406.7 428.3,408.4 436.7,408.8 437.8,410.1 450.5,410.5 452,412 470.6,412 471.6,413.2 511.8,413.2" fill="none" stroke="#c8102e" stroke-width="1.5" stroke-linejoin="miter"/>
<polyline points="301.5,312.5 301.71,312.5 301.71,314.1 302.13,314.1 302.13,315.7 302.56,315.7 302.56,317.3 302.98,317.3 302.98,318.9 303.4,318.9 303.4,320.5 303.82,320.5 303.82,322.1 304.24,322.1 304.24,323.7 304.67,323.7 304.67,325.3 305.09,325.3 305.09,326.9 305.3,326.9 305.57,326.9 305.57,328.49 306.11,328.49 306.11,330.07 306.64,330.07 306.64,331.66 307.18,331.66 307.18,333.25 307.72,333.25 307.72,334.84 308.26,334.84 308.26,336.43 308.79,336.43 308.79,338.01 309.33,338.01 309.33,339.6 309.6,339.6 313.8,340.7 315,341.7 315.38,341.7 315.38,343.07 316.15,343.07 316.15,344.43 316.92,344.43 316.92,345.8 317.3,345.8 318.2,351 323.7,351 324.4,351 324.4,352.3 325.8,352.3 325.8,353.6 326.5,353.6 332.9,353.8 333.5,358.5 334.9,358.5 334.9,360.2 336.3,360.2 336.66,360.2 336.66,361.77 337.39,361.77 337.39,363.35 338.11,363.35 338.11,364.93 338.84,364.93 338.84,366.5 339.2,366.5 340.95,366.5 340.95,368.3 342.7,368.3 343.08,368.3 343.08,370 343.85,370 343.85,371.7 344.62,371.7 344.62,373.4 345,373.4 357.7,373.7 359.4,374.6 362.3,375.2 363.45,375.2 363.45,377.5 364.6,377.5 368.1,378.6 369.8,378.6 369.8,380.4 371.5,380.4 372.95,380.4 372.95,381.7 375.85,381.7 375.85,383 377.3,383 383.6,384 384.93,384 384.93,385.6 387.57,385.6 387.57,387.2 388.9,387.2 399.5,388.3 401.07,388.3 401.07,389.9 404.23,389.9 404.23,391.5 405.8,391.5 406.7,392.5 408.5,392.5 408.5,394.6 410.3,394.6 415.6,395.7 417.7,395.7 417.7,397.2 419.8,397.2 421.9,397.2 421.9,399.3 424,399.3 434.6,399.3 436.3,401.4 452.6,401.4 454.1,402.7 497,402.7 498.1,403.7 509.7,404.1 510.75,404.1 510.75,405.6 511.8,405.6" fill="none" stroke="#0f4c85" stroke-width="1.5" stroke-linejoin="miter"/>
<rect x="39.2" y="461.3" width="210.2" height="107.8" fill="none" stroke="#222" stroke-width="1.3"/>
<line x1="36" y1="566.7" x2="39.2" y2="566.7" stroke="#222" stroke-width="1"/>
<text x="33.2" y="569.5" text-anchor="end" class="tk" textLength="4" lengthAdjust="spacingAndGlyphs">0</text>
<line x1="36" y1="546.08" x2="39.2" y2="546.08" stroke="#222" stroke-width="1"/>
<text x="33.2" y="548.88" text-anchor="end" class="tk" textLength="8" lengthAdjust="spacingAndGlyphs">20</text>
<line x1="36" y1="525.46" x2="39.2" y2="525.46" stroke="#222" stroke-width="1"/>
<text x="33.2" y="528.26" text-anchor="end" class="tk" textLength="8" lengthAdjust="spacingAndGlyphs">40</text>
<line x1="36" y1="504.84" x2="39.2" y2="504.84" stroke="#222" stroke-width="1"/>
<text x="33.2" y="507.64" text-anchor="end" class="tk" textLength="8" lengthAdjust="spacingAndGlyphs">60</text>
<line x1="36" y1="484.22" x2="39.2" y2="484.22" stroke="#222" stroke-width="1"/>
<text x="33.2" y="487.02" text-anchor="end" class="tk" textLength="8" lengthAdjust="spacingAndGlyphs">80</text>
<line x1="36" y1="463.6" x2="39.2" y2="463.6" stroke="#222" stroke-width="1"/>
<text x="33.2" y="466.4" text-anchor="end" class="tk" textLength="12" lengthAdjust="spacingAndGlyphs">100</text>
<line x1="40.6" y1="569.1" x2="40.6" y2="572.3" stroke="#222" stroke-width="1"/>
<text x="40.6" y="581.4" text-anchor="middle" class="tk" textLength="4" lengthAdjust="spacingAndGlyphs">0</text>
<line x1="81.98" y1="569.1" x2="81.98" y2="572.3" stroke="#222" stroke-width="1"/>
<text x="81.98" y="581.4" text-anchor="middle" class="tk" textLength="4" lengthAdjust="spacingAndGlyphs">6</text>
<line x1="123.36" y1="569.1" x2="123.36" y2="572.3" stroke="#222" stroke-width="1"/>
<text x="123.36" y="581.4" text-anchor="middle" class="tk" textLength="8" lengthAdjust="spacingAndGlyphs">12</text>
<line x1="164.74" y1="569.1" x2="164.74" y2="572.3" stroke="#222" stroke-width="1"/>
<text x="164.74" y="581.4" text-anchor="middle" class="tk" textLength="8" lengthAdjust="spacingAndGlyphs">18</text>
<line x1="206.12" y1="569.1" x2="206.12" y2="572.3" stroke="#222" stroke-width="1"/>
<text x="206.12" y="581.4" text-anchor="middle" class="tk" textLength="8" lengthAdjust="spacingAndGlyphs">24</text>
<line x1="247.5" y1="569.1" x2="247.5" y2="572.3" stroke="#222" stroke-width="1"/>
<text x="247.5" y="581.4" text-anchor="middle" class="tk" textLength="8" lengthAdjust="spacingAndGlyphs">30</text>
<text x="144.05" y="591.4" text-anchor="middle" class="ttl" textLength="111" lengthAdjust="spacingAndGlyphs">Months from induction treatment</text>
<text x="0" y="0" text-anchor="middle" class="ttl" textLength="46" lengthAdjust="spacingAndGlyphs" transform="translate(20,515.9) rotate(-90)">Percent survival</text>
<text x="6.5" y="456.8" class="let">G</text>
<text x="182.6" y="488.7" class="pv" textLength="29.6" lengthAdjust="spacingAndGlyphs">P = 0.05</text>
<line x1="41.2" y1="555.8" x2="72" y2="555.8" stroke="#c8102e" stroke-width="1.5"/>
<line x1="41.2" y1="562.8" x2="72" y2="562.8" stroke="#0f4c85" stroke-width="1.5"/>
<text x="78" y="557.7" class="lg" textLength="45.5" lengthAdjust="spacingAndGlyphs">Less-intensive</text>
<text x="78" y="565.2" class="lg" textLength="29.2" lengthAdjust="spacingAndGlyphs">Intensive</text>
<polyline points="41.5,463.7 43.2,465.2 43.56,465.2 43.56,466.77 44.29,466.77 44.29,468.35 45.01,468.35 45.01,469.93 45.74,469.93 45.74,471.5 46.1,471.5 46.33,471.5 46.33,473 46.79,473 46.79,474.5 47.25,474.5 47.25,476 47.71,476 47.71,477.5 48.17,477.5 48.17,479 48.4,479 48.98,479 48.98,480.45 50.12,480.45 50.12,481.9 50.7,481.9 52.4,481.9 52.4,483.6 54.1,483.6 54.45,483.6 54.45,485.1 55.15,485.1 55.15,486.6 55.85,486.6 55.85,488.1 56.55,488.1 56.55,489.6 57.25,489.6 57.25,491.1 57.6,491.1 58.18,491.1 58.18,492.67 59.35,492.67 59.35,494.23 60.52,494.23 60.52,495.8 61.1,495.8 62.8,495.8 62.8,497.5 64.5,497.5 66.25,497.5 66.25,499.8 68,499.8 70.9,500.9 72,503.8 77.2,504.4 78.08,504.4 78.08,505.85 79.83,505.85 79.83,507.3 80.7,507.3 81.55,507.3 81.55,509 83.25,509 83.25,510.7 84.1,510.7 86.4,510.7 86.4,512.5 88.7,512.5 93.4,513.6 94.17,513.6 94.17,514.97 95.7,514.97 95.7,516.33 97.23,516.33 97.23,517.7 98,517.7 99.67,517.7 99.67,519 103.03,519 103.03,520.3 104.7,520.3 106.55,520.3 106.55,521.9 110.25,521.9 110.25,523.5 112.1,523.5 112.8,523.5 112.8,524.93 114.2,524.93 114.2,526.37 115.6,526.37 115.6,527.8 116.3,527.8 122.7,528.8 123.4,528.8 123.4,530.57 124.8,530.57 124.8,532.33 126.2,532.33 126.2,534.1 126.9,534.1 132.2,535.2 140.7,536.2 141.85,536.2 141.85,538.3 143,538.3 144.6,538.3 144.6,540.4 146.2,540.4 147.75,540.4 147.75,542.6 149.3,542.6 156.8,543.6 162,544.7 163.1,544.7 163.1,546.8 164.2,546.8 168.4,547.9 170.5,548.9 181.1,549.5 184.3,550.4 190.6,551.4 205.4,551.4 207,551.4 207,553.1 208.6,553.1 226.6,553.6 227.6,554.6 247.7,554.6" fill="none" stroke="#c8102e" stroke-width="1.5" stroke-linejoin="miter"/>
<polyline points="41.5,463.7 43.8,464.6 45.5,467.5 47.2,472.7 48.35,472.7 48.35,474.4 49.5,474.4 50.95,474.4 50.95,476.1 52.4,476.1 52.88,476.1 52.88,477.67 53.85,477.67 53.85,479.23 54.82,479.23 54.82,480.8 55.3,480.8 56.02,480.8 56.02,482.2 57.48,482.2 57.48,483.6 58.2,483.6 61.1,484.5 64.5,484.8 66.3,486.8 70.3,487.1 71.45,487.1 71.45,489.4 72.6,489.4 73.6,489.4 73.6,491.15 75.6,491.15 75.6,492.9 76.6,492.9 76.96,492.9 76.96,494.62 77.69,494.62 77.69,496.35 78.41,496.35 78.41,498.07 79.14,498.07 79.14,499.8 79.5,499.8 80.38,499.8 80.38,501.25 82.12,501.25 82.12,502.7 83,502.7 83.58,502.7 83.58,504.15 84.72,504.15 84.72,505.6 85.3,505.6 88.7,506.7 91.05,506.7 91.05,508.2 93.4,508.2 94.55,508.2 94.55,509.45 96.85,509.45 96.85,510.7 98,510.7 101.35,510.7 101.35,512.9 104.7,512.9 106.12,512.9 106.12,514.67 108.95,514.67 108.95,516.43 111.78,516.43 111.78,518.2 113.2,518.2 114.25,518.2 114.25,519.63 116.35,519.63 116.35,521.07 118.45,521.07 118.45,522.5 119.5,522.5 120.57,522.5 120.57,523.9 122.7,523.9 122.7,525.3 124.83,525.3 124.83,526.7 125.9,526.7 131.15,526.7 131.15,528.8 136.4,528.8 139.7,528.8 139.7,530.9 143,530.9 146.2,531.3 147.2,532.4 152.5,533 161,533.5 162,534.5 172.6,534.5 174.7,535.6 180,536.2 181.6,536.2 181.6,537.7 183.2,537.7 189.5,538.3 191.7,539.4 207.5,539.4 209,541.5 210.9,541.5 210.9,543 212.8,543 235,543 236.05,543 236.05,544.3 237.1,544.3 242.4,544.7 245.05,544.7 245.05,546.2 247.7,546.2" fill="none" stroke="#0f4c85" stroke-width="1.5" stroke-linejoin="miter"/>
</svg>
</body></html>
